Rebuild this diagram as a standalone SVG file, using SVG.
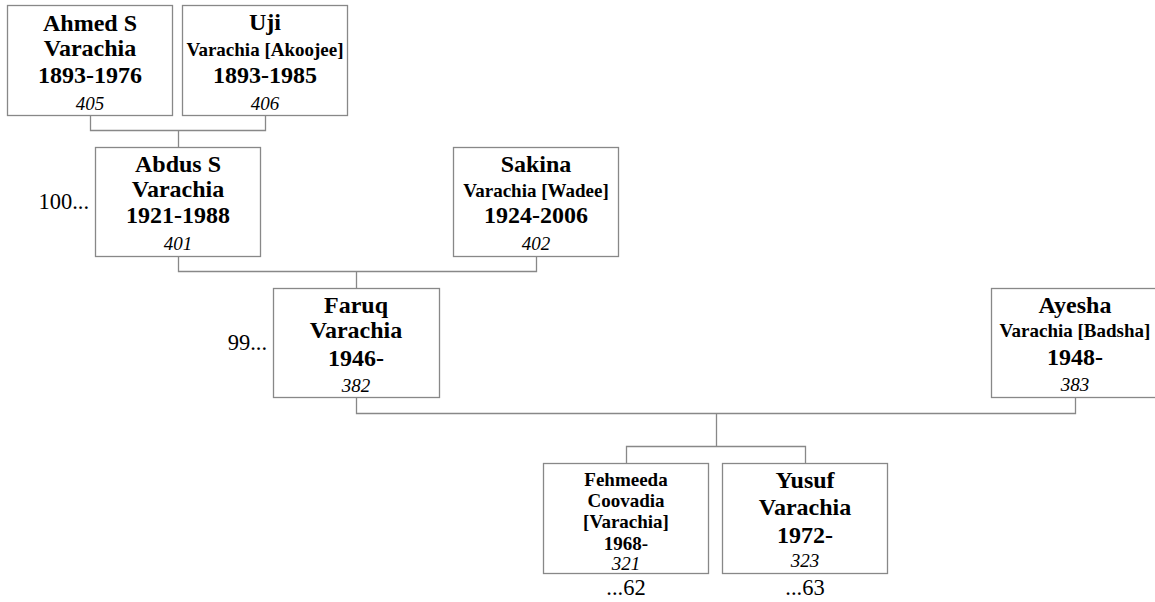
<svg xmlns="http://www.w3.org/2000/svg" width="1155" height="602" viewBox="0 0 1155 602">
<style>
.box{fill:#fff;stroke:#888;stroke-width:1.3}
.ln{fill:none;stroke:#888;stroke-width:1.3}
text{font-family:"Liberation Serif","Times New Roman",serif;fill:#000;text-anchor:middle}
.b{font-weight:bold;font-size:24px}
.s{font-weight:bold;font-size:19px}
.n{font-style:italic;font-size:19px}
.side{font-size:22.5px}
.end{text-anchor:end}
</style>
<rect width="1155" height="602" fill="#fff"/>
<g id="connectors">
<path class="ln" d="M90.5,115.5 V130.5 H265.5 V115.5 M178.5,130.5 V147.5"/>
<path class="ln" d="M178.5,256.5 V271.5 H536.5 V256.5 M356.5,271.5 V288.5"/>
<path class="ln" d="M356.5,397.5 V413.5 H1075.5 V397.5 M716.5,413.5 V446.5"/>
<path class="ln" d="M626.5,463.5 V446.5 H805.5 V463.5"/>
</g>
<g id="n405">
<rect class="box" x="7.5" y="5.5" width="165" height="110"/>
<text class="b" x="90" y="31">Ahmed S</text>
<text class="b" x="90" y="56">Varachia</text>
<text class="b" x="90" y="83">1893-1976</text>
<text class="n" x="90" y="110">405</text>
</g>
<g id="n406">
<rect class="box" x="182.5" y="5.5" width="165" height="110"/>
<text class="b" x="265" y="30">Uji</text>
<text class="s" x="265" y="56">Varachia [Akoojee]</text>
<text class="b" x="265" y="83">1893-1985</text>
<text class="n" x="265" y="110">406</text>
</g>
<g id="n401">
<rect class="box" x="95.5" y="147.5" width="165" height="109"/>
<text class="b" x="178" y="172">Abdus S</text>
<text class="b" x="178" y="197">Varachia</text>
<text class="b" x="178" y="223">1921-1988</text>
<text class="n" x="178" y="250">401</text>
<text class="side end" x="89" y="209">100...</text>
</g>
<g id="n402">
<rect class="box" x="453.5" y="147.5" width="165" height="109"/>
<text class="b" x="536" y="172">Sakina</text>
<text class="s" x="536" y="197">Varachia [Wadee]</text>
<text class="b" x="536" y="223">1924-2006</text>
<text class="n" x="536" y="250">402</text>
</g>
<g id="n382">
<rect class="box" x="273.5" y="288.5" width="166" height="109"/>
<text class="b" x="356" y="313">Faruq</text>
<text class="b" x="356" y="338">Varachia</text>
<text class="b" x="356" y="366">1946-</text>
<text class="n" x="356" y="392">382</text>
<text class="side end" x="267" y="350">99...</text>
</g>
<g id="n383">
<rect class="box" x="991.5" y="288.5" width="167" height="109"/>
<text class="b" x="1075" y="313">Ayesha</text>
<text class="s" x="1075" y="337">Varachia [Badsha]</text>
<text class="b" x="1075" y="365">1948-</text>
<text class="n" x="1075" y="391">383</text>
</g>
<g id="n321">
<rect class="box" x="543.5" y="463.5" width="165" height="110"/>
<text class="s" x="626" y="486">Fehmeeda</text>
<text class="s" x="626" y="507">Coovadia</text>
<text class="s" x="626" y="528">[Varachia]</text>
<text class="s" x="626" y="550">1968-</text>
<text class="n" x="626" y="570">321</text>
<text class="side" x="626" y="595">...62</text>
</g>
<g id="n323">
<rect class="box" x="722.5" y="463.5" width="165" height="110"/>
<text class="b" x="805" y="488">Yusuf</text>
<text class="b" x="805" y="515">Varachia</text>
<text class="b" x="805" y="543">1972-</text>
<text class="n" x="805" y="567">323</text>
<text class="side" x="805" y="595">...63</text>
</g>
</svg>
